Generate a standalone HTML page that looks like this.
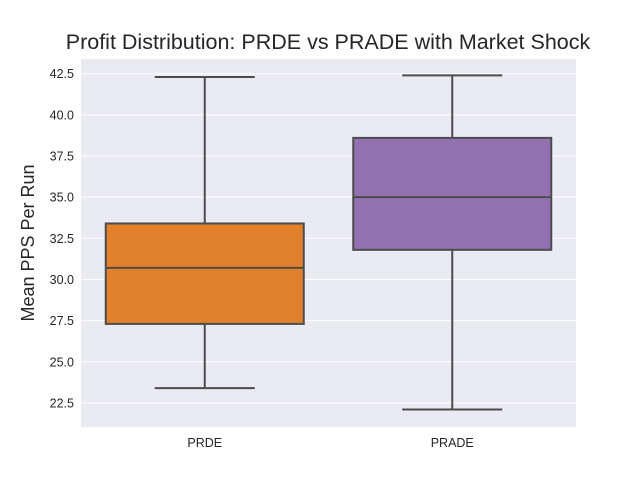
<!DOCTYPE html>
<html><head><meta charset="utf-8"><style>
body{margin:0;background:#fff;font-family:"Liberation Sans","DejaVu Sans",sans-serif}
svg text{font-family:"Liberation Sans","DejaVu Sans",sans-serif}
</style></head><body>
<svg width="640" height="480">
<text x="328" y="49" text-anchor="middle" font-size="21.5" fill="#262626">Profit Distribution: PRDE vs PRADE with Market Shock</text>
<rect x="81" y="59" width="495" height="368" fill="#eaeaf2"/>
<g id="grid"></g><g id="boxes"></g><g id="xlabels"></g>
<text transform="translate(34,243) rotate(-90)" text-anchor="middle" font-size="18" fill="#262626">Mean PPS Per Run</text>
</svg>
<script>
const categories=["PRDE","PRADE"];
const mins=[23.4,22.1];
const q1s=[27.3,31.8];
const medians=[30.7,35.0];
const q3s=[33.4,38.6];
const maxs=[42.3,42.4];
const colors=["#e1812c","#9372b2"];
const yTicks=[22.5,25.0,27.5,30.0,32.5,35.0,37.5,40.0,42.5];
const NS="http://www.w3.org/2000/svg";
function y(v){return 73.7+(42.5-v)*16.46;}
function xc(i){return 81+495*(i+0.5)/categories.length;}
function mk(tag,attrs,parent){const e=document.createElementNS(NS,tag);for(const k in attrs)e.setAttribute(k,attrs[k]);parent.appendChild(e);return e;}
const grid=document.getElementById('grid');
yTicks.forEach(t=>{
 const l=mk('line',{x1:81,x2:576,y1:y(t),y2:y(t),stroke:'#fff','stroke-width':1},grid);
 
 
 const tx=mk('text',{x:74,y:y(t)+4.5,'text-anchor':'end','font-size':12.5,fill:'#262626'},grid);
 tx.textContent=t.toFixed(1);
 
 
});
const boxes=document.getElementById('boxes');
const xl=document.getElementById('xlabels');
categories.forEach((c,i)=>{
 const cx=xc(i),hw=99,cw=50;
 const g=mk('g',{stroke:'#4c4c4c','stroke-width':2,fill:'none'},boxes);
 
 
 mk('line',{x1:cx,x2:cx,y1:y(maxs[i]),y2:y(q3s[i])},g);
 mk('line',{x1:cx,x2:cx,y1:y(q1s[i]),y2:y(mins[i])},g);
 mk('line',{x1:cx-cw,x2:cx+cw,y1:y(maxs[i]),y2:y(maxs[i])},g);
 mk('line',{x1:cx-cw,x2:cx+cw,y1:y(mins[i]),y2:y(mins[i])},g);
 mk('rect',{x:cx-hw,y:y(q3s[i]),width:2*hw,height:y(q1s[i])-y(q3s[i]),fill:colors[i]},g);
 mk('line',{x1:cx-hw,x2:cx+hw,y1:y(medians[i]),y2:y(medians[i])},g);
 const t=mk('text',{x:cx,y:447,'text-anchor':'middle','font-size':12.5,fill:'#262626'},xl);
 t.textContent=c;
 
 
});
</script>
</body></html>
